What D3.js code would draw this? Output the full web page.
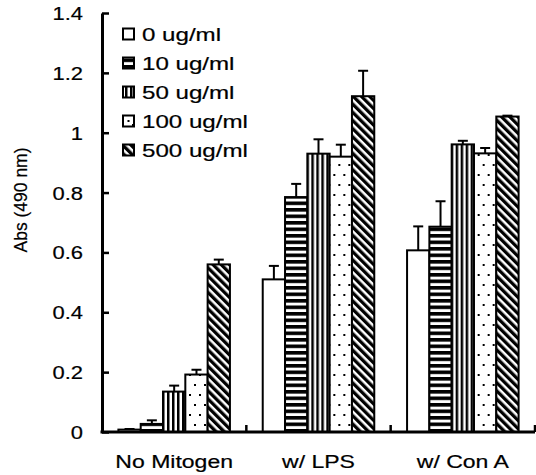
<!DOCTYPE html>
<html>
<head>
<meta charset="utf-8">
<script src="https://cdn.jsdelivr.net/npm/d3@7.9.0/dist/d3.min.js"></script>
<style>
  body { margin: 0; background: #fff; }
  text { font-family: "Liberation Sans", Arial, sans-serif; fill: #000; stroke: #000; stroke-width: 0.2px; }
</style>
</head>
<body>
<svg id="chart" width="536" height="475"></svg>
<script>
// data
const groups = ['No Mitogen', 'w/ LPS', 'w/ Con A'];
const doses = ['0 ug/ml', '10 ug/ml', '50 ug/ml', '100 ug/ml', '500 ug/ml'];
const noMitogen = [0.008, 0.027, 0.135, 0.192, 0.56];
const noMitogenErr = [0.002, 0.012, 0.02, 0.016, 0.016];
const lps = [0.51, 0.785, 0.93, 0.92, 1.122];
const lpsErr = [0.045, 0.044, 0.048, 0.04, 0.085];
const conA = [0.607, 0.686, 0.961, 0.931, 1.054];
const conAErr = [0.08, 0.085, 0.012, 0.018, 0.003];
const yTicks = [0, 0.2, 0.4, 0.6, 0.8, 1, 1.2, 1.4];
const yTickLabels = ['0', '0.2', '0.4', '0.6', '0.8', '1', '1.2', '1.4'];

const values = [noMitogen, lps, conA];
const errors = [noMitogenErr, lpsErr, conAErr];

const svg = d3.select('#chart');

// patterns
const defs = svg.append('defs');
let p = defs.append('pattern').attr('id', 'p10').attr('patternUnits', 'userSpaceOnUse')
  .attr('width', 8).attr('height', 6.5);
p.append('rect').attr('width', 8).attr('height', 6.5).attr('fill', '#fff');
p.append('rect').attr('y', 0).attr('width', 8).attr('height', 3.6).attr('fill', '#000');

p = defs.append('pattern').attr('id', 'p50').attr('patternUnits', 'userSpaceOnUse')
  .attr('width', 5).attr('height', 8);
p.append('rect').attr('width', 5).attr('height', 8).attr('fill', '#fff');
p.append('rect').attr('x', 0).attr('width', 2.5).attr('height', 8).attr('fill', '#000');

p = defs.append('pattern').attr('id', 'p100').attr('patternUnits', 'userSpaceOnUse')
  .attr('width', 10).attr('height', 20);
p.append('rect').attr('width', 10).attr('height', 20).attr('fill', '#fff');
p.append('rect').attr('x', 2).attr('y', 4).attr('width', 2).attr('height', 2).attr('fill', '#000');
p.append('rect').attr('x', 7).attr('y', 14).attr('width', 2).attr('height', 2).attr('fill', '#000');

p = defs.append('pattern').attr('id', 'p500').attr('patternUnits', 'userSpaceOnUse')
  .attr('width', 5.8).attr('height', 10).attr('patternTransform', 'rotate(-45)');
p.append('rect').attr('width', 5.8).attr('height', 10).attr('fill', '#fff');
p.append('rect').attr('width', 3.3).attr('height', 10).attr('fill', '#000');

const fills = ['#fff', 'url(#p10)', 'url(#p50)', 'url(#p100)', 'url(#p500)'];

// scales
const y = d3.scaleLinear().domain([0, 1.4]).range([432, 13]);
const x0 = d3.scaleBand().domain(groups).range([102, 535]).padding(0);
const x1 = d3.scaleBand().domain(d3.range(doses.length))
  .range([0, x0.bandwidth()]).paddingInner(0).paddingOuter(0.735);

// bars
groups.forEach((g, gi) => {
  const grp = svg.append('g').attr('transform', `translate(${x0(g)},0)`);
  doses.forEach((d, i) => {
    const v = values[gi][i];
    const e = errors[gi][i];
    const cx = x1(i) + x1.bandwidth() / 2;
    grp.append('line')
      .attr('x1', cx).attr('x2', cx)
      .attr('y1', y(v)).attr('y2', y(v + e))
      .attr('stroke', '#000').attr('stroke-width', 2);
    grp.append('line')
      .attr('x1', cx - 5).attr('x2', cx + 5)
      .attr('y1', y(v + e)).attr('y2', y(v + e))
      .attr('stroke', '#000').attr('stroke-width', 2);
    grp.append('rect')
      .attr('x', x1(i)).attr('y', y(v))
      .attr('width', x1.bandwidth()).attr('height', y(0) - y(v))
      .attr('fill', fills[i]).attr('stroke', '#000').attr('stroke-width', 2);
  });
});

// y axis
const yAxis = d3.axisLeft(y).tickValues(yTicks)
  .tickFormat((d, i) => yTickLabels[i])
  .tickSizeInner(-7).tickSizeOuter(0).tickPadding(19);
const ya = svg.append('g').attr('transform', 'translate(102,0)').call(yAxis);
ya.select('.domain').attr('stroke-width', 3);
ya.selectAll('.tick line').attr('stroke-width', 2.5);
ya.selectAll('.tick text')
  .attr('x', null).attr('dy', null)
  .attr('transform', 'translate(-19,6.5) scale(1.22,1)')
  .style('font-size', '18px')
  .style('font-family', '"Liberation Sans", Arial, sans-serif')
  .attr('fill', '#000');

// x axis
svg.append('line').attr('x1', 100.5).attr('x2', 535).attr('y1', y(0)).attr('y2', y(0))
  .attr('stroke', '#000').attr('stroke-width', 3);
groups.forEach(g => {
  const xe = x0(g) + x0.bandwidth();
  svg.append('line').attr('x1', xe).attr('x2', xe).attr('y1', y(0)).attr('y2', y(0) - 7)
    .attr('stroke', '#000').attr('stroke-width', 2.5);
  svg.append('text')
    .attr('transform', `translate(${x0(g) + x0.bandwidth() / 2},468) scale(1.28,1)`)
    .attr('text-anchor', 'middle').style('font-size', '18px').text(g);
});

// y title
svg.append('text')
  .attr('transform', 'translate(27,200) rotate(-90)')
  .attr('text-anchor', 'middle').style('font-size', '17.5px').text('Abs (490 nm)');

// legend
doses.forEach((d, i) => {
  const cy = 34 + i * 29;
  svg.append('rect').attr('x', 123).attr('y', cy - 5.5).attr('width', 11).attr('height', 11)
    .attr('fill', fills[i]).attr('stroke', '#000').attr('stroke-width', 2);
  if (i === 3) {
    svg.append('rect').attr('x', 127.5).attr('y', cy - 1).attr('width', 2).attr('height', 2)
      .attr('fill', '#000');
  }
  svg.append('text')
    .attr('transform', `translate(142,${cy + 6.5}) scale(1.34,1)`)
    .style('font-size', '18px').text(d);
});
</script>
</body>
</html>
